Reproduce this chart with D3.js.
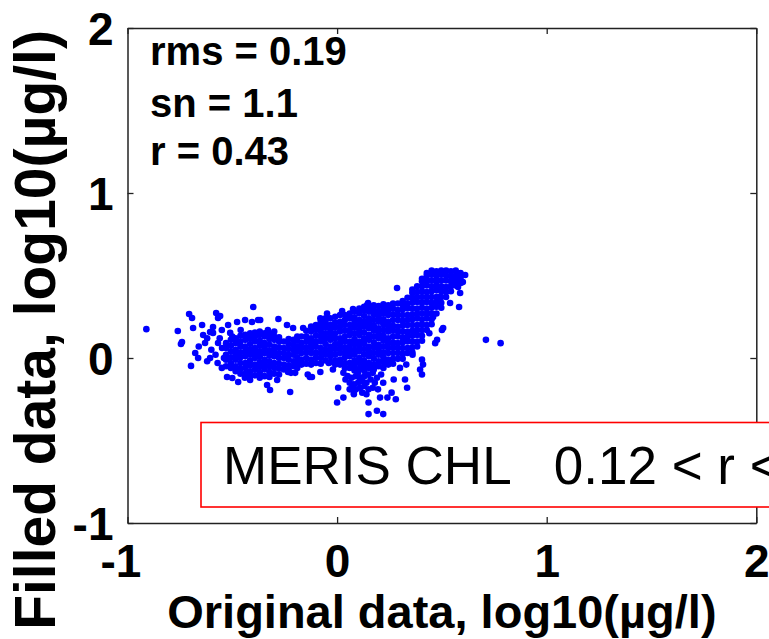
<!DOCTYPE html>
<html><head><meta charset="utf-8">
<script src="https://cdn.jsdelivr.net/npm/d3@7/dist/d3.min.js"></script>
<style>html,body{margin:0;padding:0;background:#fff;}svg{display:block;}</style>
</head><body>
<script>
// ---- tick values / labels ----
const xTicks = [-1, 0, 1, 2];
const yTicks = [-1, 0, 1, 2];
const xTitle = "Original data, log10(\u00b5g/l)";
const yTitle = "Filled data, log10(\u00b5g/l)";
const statsLines = ["rms = 0.19", "sn = 1.1", "r = 0.43"];
const boxLabel = "MERIS CHL   0.12 < r <";

// ---- data: original (x) vs filled (y), log10 units ----
// dense main cloud, given as columns [x, [y values]]
const mainCloud = [
 [-0.17,[-0.04,-0.01,0.03,0.06,0.09,0.13]],
 [-0.147,[-0.035,0.0,0.035,0.065,0.1,0.13,0.165]],
 [-0.124,[-0.04,-0.01,0.03,0.06,0.09,0.12,0.16,0.19]],
 [-0.101,[-0.03,0.005,0.035,0.07,0.1,0.135,0.17,0.2]],
 [-0.078,[-0.035,0.0,0.03,0.06,0.1,0.13,0.16,0.19,0.22]],
 [-0.055,[-0.015,0.02,0.05,0.085,0.12,0.15,0.185,0.215,0.24]],
 [-0.032,[-0.025,0.01,0.04,0.07,0.11,0.14,0.17,0.2,0.24]],
 [-0.009,[-0.04,-0.015,0.02,0.055,0.085,0.12,0.15,0.185,0.215,0.25]],
 [0.014,[-0.04,-0.01,0.03,0.06,0.09,0.12,0.16,0.19,0.22,0.26]],
 [0.037,[-0.06,-0.03,0.005,0.035,0.065,0.1,0.13,0.165,0.2,0.23,0.26]],
 [0.06,[-0.06,-0.03,0.01,0.04,0.07,0.1,0.14,0.17,0.2,0.24,0.27]],
 [0.083,[-0.075,-0.045,-0.015,0.02,0.05,0.085,0.115,0.15,0.185,0.215,0.245,0.28]],
 [0.106,[-0.065,-0.03,0.0,0.04,0.07,0.1,0.14,0.17,0.2,0.23,0.27,0.3]],
 [0.129,[-0.075,-0.045,-0.015,0.02,0.055,0.09,0.12,0.155,0.19,0.22,0.255,0.29,0.31]],
 [0.152,[-0.06,-0.03,0.01,0.04,0.07,0.11,0.14,0.18,0.21,0.24,0.28,0.31]],
 [0.175,[-0.07,-0.04,-0.005,0.03,0.065,0.095,0.13,0.165,0.195,0.23,0.265,0.295,0.32]],
 [0.198,[-0.05,-0.02,0.02,0.05,0.08,0.12,0.15,0.18,0.22,0.25,0.28,0.315]],
 [0.221,[-0.06,-0.025,0.005,0.035,0.07,0.105,0.135,0.17,0.205,0.235,0.27,0.3,0.325]],
 [0.244,[-0.04,-0.01,0.03,0.06,0.09,0.12,0.16,0.19,0.22,0.26,0.29,0.32]],
 [0.267,[-0.035,-0.005,0.03,0.065,0.095,0.13,0.165,0.195,0.23,0.265,0.3,0.33]],
 [0.29,[-0.005,0.03,0.06,0.09,0.13,0.16,0.19,0.23,0.26,0.29,0.33]],
 [0.313,[-0.005,0.025,0.06,0.095,0.125,0.16,0.195,0.225,0.26,0.295,0.325,0.345]],
 [0.336,[0.03,0.06,0.1,0.13,0.16,0.2,0.23,0.26,0.3,0.33,0.365]],
 [0.359,[0.035,0.065,0.1,0.135,0.165,0.2,0.235,0.265,0.3,0.335,0.365,0.395,0.415]],
 [0.382,[0.07,0.1,0.14,0.17,0.2,0.24,0.27,0.3,0.34,0.37,0.4,0.435]],
 [0.405,[0.105,0.135,0.17,0.205,0.235,0.27,0.305,0.335,0.37,0.405,0.435,0.465,0.48]],
 [0.428,[0.17,0.2,0.24,0.27,0.3,0.34,0.37,0.4,0.44,0.47,0.5,0.515]],
 [0.451,[0.205,0.235,0.27,0.305,0.335,0.37,0.405,0.435,0.47,0.505,0.53]],
 [0.474,[0.27,0.31,0.34,0.37,0.41,0.44,0.47,0.5,0.525]],
 [0.497,[0.305,0.335,0.37,0.405,0.435,0.47,0.505,0.53]],
 [0.52,[0.37,0.4,0.43,0.47,0.5,0.53]],
 [0.543,[0.405,0.435,0.465,0.495,0.525]],
 [0.566,[0.44,0.47,0.5,0.53]],
 [0.589,[0.455,0.485,0.515]]
];
// left cloud, columns [x, [y values]]
const leftCloud = [
 [-0.53,[-0.05,-0.01,0.02,0.06,0.09]],
 [-0.507,[-0.06,-0.03,0.005,0.04,0.075,0.11]],
 [-0.484,[-0.08,-0.05,-0.01,0.02,0.05,0.09,0.12]],
 [-0.461,[-0.095,-0.065,-0.03,0.005,0.035,0.07,0.1,0.135]],
 [-0.438,[-0.095,-0.06,-0.03,0.01,0.04,0.07,0.11,0.14]],
 [-0.415,[-0.11,-0.08,-0.045,-0.015,0.02,0.05,0.085,0.12,0.15]],
 [-0.392,[-0.105,-0.07,-0.04,0.0,0.03,0.06,0.1,0.13,0.155]],
 [-0.369,[-0.12,-0.09,-0.055,-0.025,0.01,0.04,0.075,0.105,0.14,0.16]],
 [-0.346,[-0.11,-0.07,-0.04,-0.01,0.03,0.06,0.09,0.13,0.15]],
 [-0.323,[-0.115,-0.085,-0.05,-0.02,0.015,0.045,0.08,0.115,0.145]],
 [-0.30,[-0.095,-0.06,-0.03,0.01,0.04,0.07,0.11,0.13]],
 [-0.277,[-0.1,-0.065,-0.035,0.0,0.03,0.065,0.1,0.125]],
 [-0.254,[-0.07,-0.04,0.0,0.03,0.06,0.1]],
 [-0.231,[-0.075,-0.045,-0.01,0.02,0.055,0.085,0.115]],
 [-0.208,[-0.05,-0.02,0.02,0.05,0.08,0.11]],
 [-0.19,[-0.06,-0.03,0.005,0.04,0.07,0.105,0.13]]
];
// scattered points around the left cloud
const leftScatter = [
 [-0.76,0.164],[-0.74,0.097],[-0.745,0.085],[-0.706,0.267],[-0.692,0.242],[-0.687,0.182],
 [-0.697,-0.048],[-0.677,0.03],[-0.663,0.0],[-0.644,0.2],[-0.639,0.139],[-0.63,0.091],
 [-0.606,0.0],[-0.592,0.152],[-0.577,0.273],[-0.568,0.242],[-0.558,0.255],[-0.592,0.188],
 [-0.568,0.091],[-0.549,0.061],[-0.606,0.158],[-0.52,0.2],[-0.51,0.152],[-0.477,0.218],
 [-0.439,0.23],[-0.4,0.309],[-0.406,0.218],[-0.377,0.23],[-0.525,-0.115],[-0.5,-0.121],
 [-0.472,-0.145],[-0.415,-0.133],[-0.334,-0.164],[-0.32,-0.194],[-0.286,-0.133],
 [-0.224,-0.206],[-0.2,-0.09],[-0.234,-0.085],[-0.13,-0.115],[-0.162,0.182],[-0.21,0.182],
 [-0.239,0.2],[-0.28,0.236],[-0.367,0.23],[-0.66,0.07],[-0.62,0.12],[-0.6,0.05],
 [-0.58,0.02],[-0.56,0.12],[-0.55,0.17],[-0.57,-0.03],[-0.54,0.0],[-0.55,-0.06],
 [-0.62,-0.02],[-0.5,0.13],[-0.46,0.17],[-0.33,0.17],[-0.3,0.16],[-0.44,-0.12]
];
// scattered points around the main cloud
const mainScatter = [
 [-0.14,-0.1],[-0.12,-0.115],[-0.08,-0.085],[-0.04,-0.03],[-0.02,-0.07],[-0.22,-0.09],
 [0.405,-0.01],[0.41,-0.04],[0.405,-0.1],[0.396,-0.07],[0.324,-0.13],[0.334,-0.18],
 [0.468,0.09],[0.477,0.11],[0.5,0.17],[0.553,0.473],[0.577,0.43],[0.587,0.394],
 [0.611,0.503],[0.6,0.46],[0.539,0.333],[0.582,0.309],[0.458,0.248],[0.506,0.182],
 [0.482,0.37],[0.143,0.321],[0.148,0.333],[0.286,0.424],[0.024,0.285],[0.076,0.297],
 [-0.08,0.24],[-0.048,0.27],[0.3,-0.06],[0.33,-0.04],[0.36,0.02],[0.44,0.15]
];
// downward tail below the main cloud
const lowerTail = [
 [0.005,-0.18],[0.0,-0.27],[0.03,-0.24],[0.06,-0.19],[0.08,-0.21],[0.15,-0.27],
 [0.15,-0.34],[0.19,-0.32],[0.22,-0.34],[0.205,-0.24],[0.24,-0.24],[0.26,-0.21],
 [0.28,-0.25],[0.27,-0.13],[0.17,-0.18],[0.195,-0.19],[0.22,-0.15],[0.11,-0.12],
 [0.14,-0.1],[0.03,-0.09],[0.05,-0.11],[0.07,-0.12],[0.09,-0.11],[0.11,-0.13],
 [0.13,-0.11],[0.15,-0.1],[0.17,-0.09],[0.06,-0.15],[0.08,-0.16],[0.1,-0.15],
 [0.12,-0.14],[0.14,-0.15],[0.16,-0.13],[0.07,-0.18],[0.09,-0.19],[0.11,-0.18],
 [0.13,-0.17],[0.15,-0.19],[0.08,-0.22],[0.12,-0.21],[0.14,-0.22],[0.19,-0.12],[0.21,-0.1],
 [0.04,-0.13],[0.18,-0.15],[0.1,-0.09]
];
// isolated outliers
const outliers = [[-0.91,0.175],[0.71,0.11],[0.78,0.09]];

// ---- build point list ----
const points = [];
[mainCloud, leftCloud].forEach(cl => cl.forEach(([x, ys]) => ys.forEach(y => points.push([x, y]))));
[leftScatter, mainScatter, lowerTail, outliers].forEach(a => a.forEach(p => points.push(p)));

// ---- chart ----
const W = 769, H = 639;
const FONT = "'Liberation Sans', Arial, Helvetica, sans-serif";
const svg = d3.select("body").append("svg").attr("width", W).attr("height", H)
  .style("font-family", FONT);
svg.append("rect").attr("width", W).attr("height", H).attr("fill", "#fff");

const x = d3.scaleLinear().domain([-1, 2]).range([127.5, 756.3]);
const y = d3.scaleLinear().domain([-1, 2]).range([523, 28]);

// points
svg.append("g").selectAll("circle").data(points).join("circle")
  .attr("cx", d => x(d[0])).attr("cy", d => y(d[1])).attr("r", 3.3)
  .attr("fill", "#0000ff");

// axes (ticks pointing inward, box on all four sides)
function styleAxis(g) {
  g.selectAll(".domain").attr("stroke", "#222").attr("stroke-width", 1.5);
  g.selectAll(".tick line").attr("stroke", "#222").attr("stroke-width", 1.3);
}
const fmt = d => String(d);
const gx = svg.append("g").attr("transform", `translate(0,${y(-1)})`)
  .call(d3.axisBottom(x).tickValues(xTicks).tickSizeInner(-6).tickSizeOuter(0).tickPadding(21).tickFormat(fmt))
  .call(styleAxis);
gx.selectAll(".tick text").attr("font-size", 46).attr("font-weight", "bold").attr("fill", "#000")
  .attr("font-family", FONT).attr("dx", d => d < 0 ? -7 : 0);

const gy = svg.append("g").attr("transform", `translate(${x(-1)},0)`)
  .call(d3.axisLeft(y).tickValues(yTicks).tickSizeInner(-6).tickSizeOuter(0).tickPadding(14).tickFormat(fmt))
  .call(styleAxis);
gy.selectAll(".tick text").attr("font-size", 46).attr("font-weight", "bold").attr("fill", "#000")
  .attr("font-family", FONT).attr("dy", "0.36em");

svg.append("g").attr("transform", `translate(0,${y(2)})`)
  .call(d3.axisTop(x).tickValues(xTicks).tickSizeInner(-6).tickSizeOuter(0).tickFormat(""))
  .call(styleAxis);
svg.append("g").attr("transform", `translate(${x(2)},0)`)
  .call(d3.axisRight(y).tickValues(yTicks).tickSizeInner(-6).tickSizeOuter(0).tickFormat(""))
  .call(styleAxis);

// axis titles
svg.append("text").attr("x", (x(-1) + x(2)) / 2).attr("y", 628)
  .attr("text-anchor", "middle").attr("font-size", 47).attr("font-weight", "bold").text(xTitle);
svg.append("text").attr("transform", "translate(55,330) rotate(-90)")
  .attr("text-anchor", "middle").attr("font-size", 57).attr("font-weight", "bold").text(yTitle);

// statistics
svg.append("g").selectAll("text").data(statsLines).join("text")
  .attr("x", 150).attr("y", (d, i) => [65, 117, 165][i])
  .attr("font-size", 40).attr("font-weight", "bold").text(d => d);

// red label box
svg.append("rect").attr("x", 201).attr("y", 422.5).attr("width", 620).attr("height", 84.5)
  .attr("fill", "#fff").attr("stroke", "#ff0000").attr("stroke-width", 1.6);
svg.append("text").attr("x", 223).attr("y", 484).attr("font-size", 53)
  .style("white-space", "pre").text(boxLabel);
</script>
</body></html>
